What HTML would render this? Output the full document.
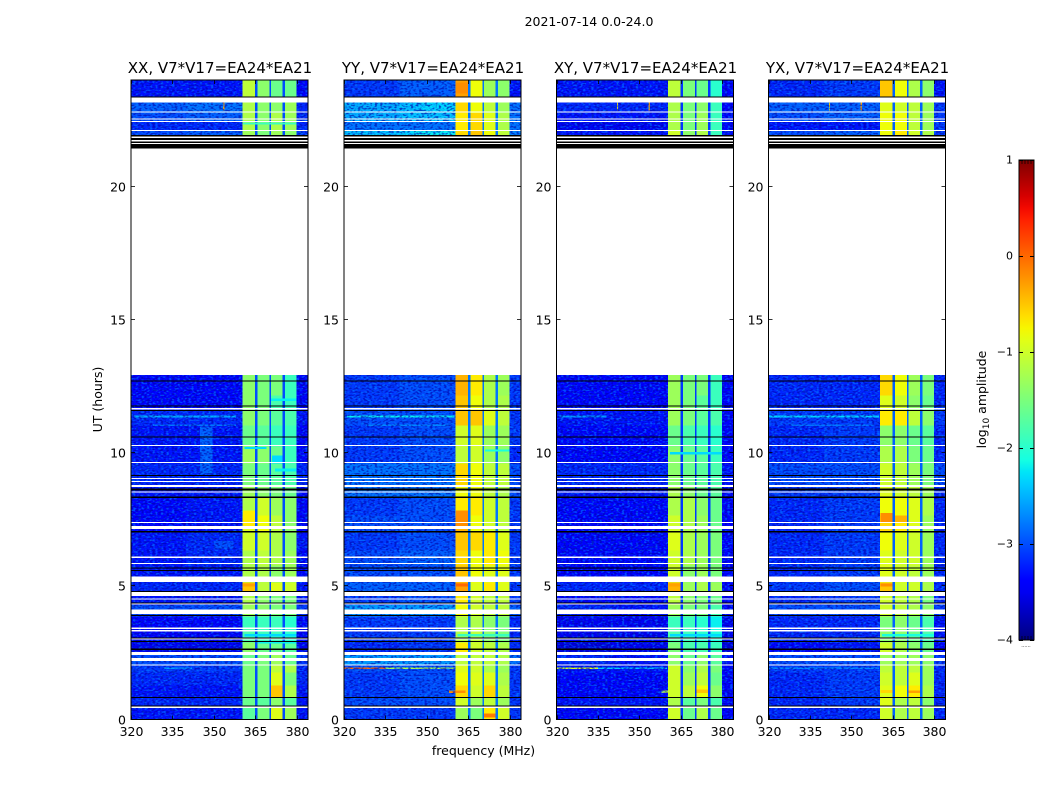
<!DOCTYPE html>
<html>
<head>
<meta charset="utf-8">
<style>
html,body{margin:0;padding:0;background:#fff;width:1050px;height:800px;overflow:hidden}
svg{display:block}
text{font-family:"DejaVu Sans","Liberation Sans",sans-serif;fill:#000}
</style>
</head>
<body>
<svg id="figure" xmlns="http://www.w3.org/2000/svg" width="1050" height="800" viewBox="0 0 1050 800">
  <defs>
    <linearGradient id="jetGradient" x1="0" y1="1" x2="0" y2="0"></linearGradient>
    <filter id="speckleBright" filterUnits="userSpaceOnUse" x="0" y="0" width="1050" height="800" color-interpolation-filters="sRGB">
      <feTurbulence type="fractalNoise" baseFrequency="0.36 0.6" numOctaves="1" seed="4"/>
      <feColorMatrix type="matrix" values="0 0 0 0 0  0 0 0 0 0.5  0 0 0 0 1  6 0 0 0 -3.0"/>
    </filter>
    <filter id="speckleDark" filterUnits="userSpaceOnUse" x="0" y="0" width="1050" height="800" color-interpolation-filters="sRGB">
      <feTurbulence type="fractalNoise" baseFrequency="0.36 0.6" numOctaves="1" seed="11"/>
      <feColorMatrix type="matrix" values="0 0 0 0 0  0 0 0 0 0  0 0 0 0 0.65  6 0 0 0 -2.9"/>
    </filter>
  </defs>
  <text x="589" y="26" font-size="12.5" text-anchor="middle">2021-07-14 0.0-24.0</text>
  <text x="483.5" y="755" font-size="12.5" text-anchor="middle">frequency (MHz)</text>
  <text x="0" y="0" font-size="12.5" text-anchor="middle" transform="translate(102,399.5) rotate(-90)">UT (hours)</text>
  <g id="panels"></g>
  <g id="colorbar"></g>
  <text x="0" y="0" font-size="12.5" text-anchor="middle" transform="translate(986,399.5) rotate(-90)">log<tspan font-size="9" dy="3">10</tspan><tspan dy="-3"> amplitude</tspan></text>
</svg>
<script>
// ---- axis tick labels ----
const freqTicks = [320, 335, 350, 365, 380];
const timeTicks = [0, 5, 10, 15, 20];
const colorTicks = [1, 0, -1, -2, -3, -4];

// ---- frequency columns (MHz): index 0-6 reads a block value, 'g' reads the panel's gap level ----
const columnEdges = [320, 340, 360.3, 364.8, 365.7, 370, 370.7, 374.8, 375.6, 379.9, 384];
const columnSource = [0, 1, 2, 'g', 3, 'g', 4, 'g', 5, 6];

// ---- time blocks (UT hours) ----
const blockEdges = [0, .47, .81, 1.29, 1.78, 2.03, 2.53, 2.91, 3.43, 3.88, 4.3, 4.78, 5.16, 5.79, 6.36, 7.03, 7.67, 8.34, 8.79, 9.62, 10.26, 11.04, 11.6, 12.17, 12.92, 21.93, 22.11, 22.78, 23.38, 24];

// ---- log10 amplitude per block: [bg 320-340, bg 340-360, band1, band2, band3, band4, bg 380-384] ----
const levelsXX = [
[-3.3,-3.3,-1.7,-1.5,-0.9,-1.3,-3.3],
[-3.2,-3.2,-1.6,-1.7,-1.4,-1.7,-3.3],
[-3.3,-3.3,-1.5,-1.5,-0.5,-1.2,-3.3],
[-3.2,-3.2,-1.5,-1.5,-0.9,-1.5,-3.2],
[-3.1,-3.1,-1.5,-1.5,-1.1,-1.2,-3.2],
[-3.0,-3.0,-1.6,-1.5,-1.3,-1.6,-3.1],
[-3.5,-3.5,-1.4,-1.6,-1.6,-1.7,-3.5],
[-3.4,-3.4,-1.8,-1.9,-1.9,-2.0,-3.4],
[-3.4,-3.4,-1.9,-1.9,-1.9,-2.0,-3.4],
[-3.0,-3.0,-1.3,-1.4,-1.5,-1.5,-3.1],
[-3.3,-3.3,-1.2,-1.4,-1.5,-1.5,-3.3],
[-3.2,-3.2,-0.5,-1.1,-0.9,-1.0,-3.3],
[-3.3,-3.3,-1.2,-1.2,-1.4,-1.3,-3.4],
[-3.3,-3.2,-1.2,-1.1,-1.2,-1.3,-3.4],
[-3.3,-3.2,-1.0,-1.0,-1.2,-1.4,-3.3],
[-3.4,-3.3,-0.9,-0.8,-1.1,-1.4,-3.4],
[-3.4,-3.3,-1.2,-1.0,-1.3,-1.4,-3.4],
[-3.3,-3.3,-1.3,-1.4,-1.5,-1.6,-3.4],
[-3.2,-3.2,-1.5,-1.6,-1.7,-1.8,-3.2],
[-3.3,-3.3,-1.3,-1.4,-1.6,-1.9,-3.4],
[-3.3,-3.3,-1.6,-1.7,-1.9,-1.9,-3.4],
[-3.2,-3.2,-1.4,-1.5,-1.7,-1.8,-3.3],
[-3.4,-3.4,-1.4,-1.5,-1.8,-1.9,-3.4],
[-3.4,-3.4,-1.4,-1.5,-1.5,-1.9,-3.4],
null,
[-3.0,-2.9,-1.3,-1.5,-1.3,-1.4,-3.1],
[-3.0,-2.9,-1.2,-1.4,-1.2,-1.3,-3.2],
[-2.9,-2.8,-1.2,-1.4,-1.4,-1.3,-3.2],
[-3.3,-3.3,-1.1,-1.4,-1.6,-1.6,-3.4]];

const levelsYY = [
[-3.1,-3.1,-1.3,-1.5,-0.7,-1.0,-3.1],
[-3.0,-3.0,-1.0,-1.3,-1.1,-1.3,-3.1],
[-3.1,-3.0,-0.6,-1.0,-0.6,-1.1,-3.1],
[-3.1,-3.0,-0.8,-0.9,-0.9,-1.2,-3.1],
[-3.0,-3.0,-0.9,-1.0,-1.2,-1.3,-3.1],
[-2.6,-2.6,-1.1,-1.1,-1.1,-1.2,-2.8],
[-3.2,-3.1,-0.7,-1.0,-1.1,-1.2,-3.2],
[-3.1,-3.1,-1.2,-1.1,-1.4,-1.5,-3.2],
[-3.1,-3.1,-1.2,-1.2,-1.4,-1.5,-3.2],
[-2.6,-2.6,-0.8,-1.0,-1.1,-1.1,-2.9],
[-3.1,-3.0,-0.7,-1.0,-1.1,-1.1,-3.1],
[-2.9,-2.9,-0.3,-0.9,-0.7,-0.9,-3.1],
[-3.0,-3.0,-0.5,-0.8,-0.9,-0.9,-3.1],
[-3.0,-2.9,-0.6,-0.8,-0.7,-0.8,-3.1],
[-3.1,-3.0,-0.5,-0.6,-0.7,-0.9,-3.1],
[-3.0,-3.0,-0.4,-0.8,-1.0,-1.1,-3.1],
[-3.1,-3.0,-0.7,-0.7,-1.0,-1.1,-3.1],
[-2.8,-2.8,-0.8,-0.8,-1.1,-1.2,-3.0],
[-2.8,-2.8,-0.6,-0.8,-1.1,-1.1,-3.0],
[-3.1,-3.0,-1.1,-1.0,-1.3,-1.4,-3.2],
[-3.1,-3.0,-1.0,-0.9,-1.3,-1.3,-3.1],
[-3.0,-3.0,-0.5,-0.5,-0.9,-1.1,-3.1],
[-3.1,-3.0,-0.5,-0.8,-1.2,-1.2,-3.1],
[-3.1,-3.0,-0.4,-0.7,-1.2,-1.3,-3.1],
null,
[-2.4,-2.3,-0.6,-0.5,-0.8,-1.1,-2.7],
[-2.5,-2.4,-0.7,-0.6,-0.9,-1.2,-2.8],
[-2.5,-2.4,-0.6,-0.8,-1.1,-1.3,-2.8],
[-3.1,-2.9,-0.3,-0.8,-1.3,-1.4,-3.3]];

const levelsXY = [
[-3.4,-3.4,-1.0,-1.6,-1.2,-1.6,-3.4],
[-3.3,-3.3,-1.2,-1.7,-1.5,-1.8,-3.4],
[-3.4,-3.4,-1.0,-1.1,-0.8,-1.4,-3.4],
[-3.4,-3.4,-1.0,-1.3,-1.1,-1.6,-3.4],
[-3.3,-3.3,-1.0,-1.4,-1.2,-1.5,-3.4],
[-3.2,-3.3,-1.4,-1.6,-1.4,-1.7,-3.3],
[-3.6,-3.5,-1.5,-1.8,-1.8,-1.9,-3.6],
[-3.5,-3.5,-1.8,-1.9,-2.0,-2.1,-3.5],
[-3.5,-3.5,-1.9,-1.9,-2.0,-2.2,-3.5],
[-3.2,-3.3,-1.3,-1.5,-1.5,-1.8,-3.4],
[-3.4,-3.4,-1.1,-1.4,-1.5,-1.6,-3.4],
[-3.2,-3.2,-0.4,-1.3,-1.2,-1.3,-3.4],
[-3.4,-3.4,-1.0,-1.4,-1.3,-1.5,-3.4],
[-3.4,-3.4,-1.0,-1.2,-1.3,-1.5,-3.4],
[-3.4,-3.4,-0.9,-1.2,-1.3,-1.5,-3.4],
[-3.4,-3.4,-1.0,-1.2,-1.3,-1.6,-3.4],
[-3.4,-3.4,-1.2,-1.2,-1.4,-1.6,-3.4],
[-3.3,-3.3,-1.2,-1.4,-1.6,-1.7,-3.4],
[-3.2,-3.2,-1.4,-1.6,-1.7,-1.8,-3.3],
[-3.4,-3.4,-1.4,-1.6,-1.7,-1.9,-3.4],
[-3.4,-3.4,-1.6,-1.8,-1.9,-2.0,-3.4],
[-3.3,-3.3,-1.3,-1.5,-1.7,-1.8,-3.4],
[-3.4,-3.4,-1.3,-1.5,-1.7,-1.9,-3.4],
[-3.4,-3.4,-1.3,-1.5,-1.5,-1.9,-3.4],
null,
[-3.3,-3.3,-1.0,-1.4,-1.2,-1.9,-3.3],
[-3.3,-3.3,-1.2,-1.5,-1.3,-1.9,-3.4],
[-3.2,-3.2,-1.2,-1.5,-1.4,-1.9,-3.4],
[-3.3,-3.3,-1.1,-1.5,-1.6,-2.0,-3.4]];

const levelsYX = [
[-3.2,-3.2,-1.0,-1.2,-1.1,-1.3,-3.2],
[-3.2,-3.1,-0.9,-1.2,-1.1,-1.4,-3.2],
[-3.2,-3.1,-0.9,-0.8,-0.7,-1.2,-3.2],
[-3.2,-3.1,-1.0,-1.1,-0.9,-1.3,-3.2],
[-3.1,-3.1,-1.1,-1.1,-1.1,-1.3,-3.2],
[-3.0,-3.0,-1.3,-1.3,-1.3,-1.4,-3.1],
[-3.4,-3.3,-1.0,-1.2,-1.4,-1.6,-3.4],
[-3.2,-3.2,-1.4,-1.4,-1.6,-1.8,-3.3],
[-3.2,-3.2,-1.5,-1.4,-1.6,-1.8,-3.3],
[-3.0,-3.0,-1.0,-1.1,-1.2,-1.4,-3.1],
[-3.2,-3.1,-1.0,-1.1,-1.2,-1.5,-3.2],
[-3.1,-3.0,-0.5,-1.0,-1.0,-1.2,-3.2],
[-3.2,-3.1,-0.9,-1.0,-1.1,-1.3,-3.2],
[-3.2,-3.1,-0.9,-1.0,-1.0,-1.3,-3.2],
[-3.2,-3.1,-0.8,-0.9,-1.0,-1.3,-3.2],
[-3.2,-3.1,-0.6,-0.7,-0.9,-1.3,-3.2],
[-3.2,-3.1,-0.8,-0.8,-0.9,-1.2,-3.2],
[-3.1,-3.1,-0.9,-1.0,-1.1,-1.3,-3.2],
[-3.0,-3.0,-1.0,-1.1,-1.3,-1.5,-3.0],
[-3.2,-3.1,-1.2,-1.2,-1.5,-1.6,-3.2],
[-3.2,-3.1,-1.4,-1.4,-1.6,-1.7,-3.2],
[-3.1,-3.1,-0.7,-0.7,-1.1,-1.4,-3.1],
[-3.2,-3.2,-0.9,-1.0,-1.4,-1.6,-3.2],
[-3.2,-3.2,-0.6,-0.8,-1.3,-1.5,-3.2],
null,
[-3.0,-2.9,-0.8,-0.7,-1.0,-1.2,-3.1],
[-3.0,-2.9,-0.8,-0.8,-1.1,-1.3,-3.1],
[-2.9,-2.9,-0.9,-1.0,-1.1,-1.3,-3.1],
[-3.2,-3.1,-0.5,-0.8,-1.2,-1.4,-3.3]];

// ---- narrow features per panel: [t0, t1, f0, f1, level] ----
const featuresXX = [
[11.33,11.4,321,358,-2.5],[11.02,11.07,328,358,-2.8],[9.2,11,345,349.5,-2.9],[6.4,6.7,350,357,-3.0],
[7.25,7.85,360.5,364.8,-0.7],[1.9,1.95,332,342,-2.6],[10.15,10.23,361,369,-2.3],[9.6,9.9,371,374.8,-2.3],
[9.3,9.42,372,379.9,-2.2],[11.95,12.05,370.7,379.9,-2.2],[3.12,3.2,361,379.9,-2.3],[2.85,2.95,366,379.9,-2.2],
[5.0,5.1,360.5,364.8,-0.3],[22.85,23.15,353.2,353.8,-0.3],[22.11,22.43,320,360.3,-3.2],[22.33,22.4,360.5,379.9,-1.9]
];
const featuresYY = [
[11.33,11.4,321,360,-2.2],[11.02,11.07,328,358,-2.7],[1.89,1.95,320,335,0],[1.89,1.95,335,360,-1.2],
[7.25,7.85,360.5,364.8,-0.2],[5.0,5.1,360.5,364.8,0],[10.05,10.13,371,379.9,-2.1],[3.12,3.2,361,379.9,-1.9],
[1.0,1.08,358,364,-0.2],[0.08,0.22,370.7,374.8,-0.1],[23.5,23.9,360.5,364.8,-0.2],[22.11,22.43,320,360.3,-2.8],
[22.8,23.16,348,360.3,-2.3],[21.93,22.11,345,360.3,-2.2]
];
const featuresXY = [
[11.33,11.4,321,338,-2.6],[1.89,1.95,320,335,-0.9],[1.89,1.95,335,360,-2.4],[1.0,1.08,358,364,-1.0],
[1.0,1.12,370.7,374.8,-0.5],[5.0,5.1,360.5,364.8,-0.3],[3.12,3.2,361,379.9,-2.3],[9.95,10.03,361,379.9,-2.3],
[22.85,23.15,353.2,353.8,-0.3],[22.85,23.15,341.8,342.3,-0.6],[22.11,22.43,320,360.3,-3.5]
];
const featuresYX = [
[11.33,11.4,320,360,-2.3],[11.02,11.07,328,358,-2.8],[7.4,7.75,360.5,364.8,-0.2],[7.4,7.65,365.7,370,-0.4],
[5.0,5.1,360.5,364.8,-0.2],[1.89,1.95,320,360,-2.7],[1.0,1.08,370.7,374.8,-0.3],[1.0,1.1,360.5,364.8,-0.6],
[3.12,3.2,361,379.9,-2.1],[22.85,23.15,353.2,353.8,-0.3],[22.85,23.15,341.8,342.3,-0.6],[22.11,22.43,320,360.3,-3.3]
];

// ---- flagged integrations (UT hours): [start, end] ----
const whiteGaps = [
[.44,.48],[2.03,2.07],[2.2,2.3],[2.43,2.53],[3.0,3.04],[3.31,3.35],[3.39,3.46],[3.95,4.13],[4.31,4.35],[4.51,4.55],
[4.64,4.78],[5.16,5.36],[5.83,5.87],[6.07,6.11],[7.14,7.26],[7.37,7.41],[8.51,8.55],[8.73,8.8],[8.92,8.96],[9.03,9.07],
[9.62,9.66],[10.26,10.3],[11.64,11.69],[12.92,21.43],[21.6,21.64],[21.7,21.75],[21.83,21.88],[22.08,22.12],[22.43,22.47],
[22.52,22.56],[22.78,22.82],[23.16,23.34]
];
const blackGaps = [
[.48,.52],[.8,.84],[2.61,2.67],[2.91,2.95],[3.04,3.08],[3.88,3.92],[4.36,4.4],[4.78,4.82],[5.58,5.62],[5.67,5.71],
[7.02,7.07],[8.32,8.36],[8.6,8.66],[9.13,9.17],[10.59,10.63],[11.57,11.61],[11.75,11.79],[12.69,12.73],
[21.43,21.6],[21.64,21.7],[21.75,21.83],[21.88,21.93],[23.34,23.38]
];

// ---- panels ----
const panelTitles = ['XX, V7*V17=EA24*EA21', 'YY, V7*V17=EA24*EA21', 'XY, V7*V17=EA24*EA21', 'YX, V7*V17=EA24*EA21'];
const panelLevels = [levelsXX, levelsYY, levelsXY, levelsYX];
const panelFeatures = [featuresXX, featuresYY, featuresXY, featuresYX];
const panelGapLevels = [-3.0, -2.8, -3.1, -2.9];

const SVGNS = 'http://www.w3.org/2000/svg';
const panelLefts = [131, 344, 556.5, 768.5];
const panelWidth = 177;
const plotTop = 80, plotBottom = 719.5;
const freqMin = 320, freqMax = 384, timeMin = 0, timeMax = 24, colorMin = -4, colorMax = 1;

function xScale(left, f) { return left + (f - freqMin) / (freqMax - freqMin) * panelWidth; }
function yScale(t) { return plotBottom - (t - timeMin) / (timeMax - timeMin) * (plotBottom - plotTop); }

function jet(level) {
  const v = Math.max(0, Math.min(1, (level - colorMin) / (colorMax - colorMin)));
  const ramp = (pts) => {
    for (let i = 1; i < pts.length; i++) {
      if (v <= pts[i][0]) {
        const a = pts[i - 1], b = pts[i];
        return a[1] + (b[1] - a[1]) * (v - a[0]) / (b[0] - a[0]);
      }
    }
    return pts[pts.length - 1][1];
  };
  const r = ramp([[0, 0], [.35, 0], [.66, 1], [.89, 1], [1, .5]]);
  const g = ramp([[0, 0], [.125, 0], [.375, 1], [.64, 1], [.91, 0], [1, 0]]);
  const b = ramp([[0, .5], [.11, 1], [.34, 1], [.65, 0], [1, 0]]);
  return 'rgb(' + Math.round(r * 255) + ',' + Math.round(g * 255) + ',' + Math.round(b * 255) + ')';
}

function make(tag, parent) {
  const el = document.createElementNS(SVGNS, tag);
  parent.appendChild(el);
  return el;
}
function place(el, x, y, w, h, fill) {
  el.setAttribute('x', x);
  el.setAttribute('y', y);
  el.setAttribute('width', w);
  el.setAttribute('height', h);
  if (fill) el.setAttribute('fill', fill);
}

const panelsRoot = document.getElementById('panels');

panelTitles.forEach(function (title, p) {
  const left = panelLefts[p];
  const levels = panelLevels[p];
  const group = make('g', panelsRoot);
  
  

  const heat = make('g', group);
  
  
  heat.setAttribute('shape-rendering', 'crispEdges');

  levels.forEach(function (row, b) {
    if (!row) return;
    const yTop = yScale(blockEdges[b + 1]);
    const yBot = yScale(blockEdges[b]);
    columnSource.forEach(function (src, c) {
      const value = src === 'g' ? panelGapLevels[p] : row[src];
      const x0 = xScale(left, columnEdges[c]);
      const x1 = xScale(left, columnEdges[c + 1]);
      const cell = make('rect', heat);
      
      
      place(cell, x0, yTop, x1 - x0 + .3, yBot - yTop + .3, jet(value));
    });
  });

  panelFeatures[p].forEach(function (ft) {
    const cell = make('rect', heat);
    
    
    place(cell, xScale(left, ft[2]), yScale(ft[1]), xScale(left, ft[3]) - xScale(left, ft[2]), yScale(ft[0]) - yScale(ft[1]), jet(ft[4]));
  });

  // speckle texture over the off-band background columns
  [[columnEdges[0], columnEdges[2]], [columnEdges[9], columnEdges[10]]].forEach(function (span) {
    const clipId = 'clip-' + p + '-' + Math.round(span[0]);
    const clip = make('clipPath', group);
    clip.setAttribute('id', clipId);
    const cr = make('rect', clip);
    place(cr, xScale(left, span[0]), plotTop, xScale(left, span[1]) - xScale(left, span[0]), plotBottom - plotTop);
    ['speckleBright', 'speckleDark'].forEach(function (fid) {
      const wrap = make('g', group);
      wrap.setAttribute('clip-path', 'url(#' + clipId + ')');
      wrap.setAttribute('opacity', '0.6');
      const sp = make('rect', wrap);
      
      
      place(sp, xScale(left, span[0]), plotTop, xScale(left, span[1]) - xScale(left, span[0]), plotBottom - plotTop, '#000');
      sp.setAttribute('filter', 'url(#' + fid + ')');
    });
  });

  const flags = make('g', group);
  
  
  flags.setAttribute('shape-rendering', 'crispEdges');
  whiteGaps.forEach(function (g) {
    const r = make('rect', flags);
    
    
    place(r, left, yScale(g[1]), panelWidth, yScale(g[0]) - yScale(g[1]), '#fff');
  });
  blackGaps.forEach(function (g) {
    const r = make('rect', flags);
    
    
    place(r, left, yScale(g[1]), panelWidth, yScale(g[0]) - yScale(g[1]), '#000');
  });

  const frame = make('rect', group);
  
  
  place(frame, left, plotTop, panelWidth, plotBottom - plotTop, 'none');
  frame.setAttribute('stroke', '#000');
  frame.setAttribute('stroke-width', '1');
  frame.setAttribute('shape-rendering', 'crispEdges');

  const titleEl = make('text', group);
  
  
  titleEl.setAttribute('x', left + panelWidth / 2 + .5);
  titleEl.setAttribute('y', 73);
  titleEl.setAttribute('font-size', '15');
  titleEl.setAttribute('text-anchor', 'middle');
  titleEl.textContent = title;

  freqTicks.forEach(function (f) {
    const x = Math.round(xScale(left, f)) + .5;
    [[plotBottom, plotBottom - 4], [plotTop, plotTop + 4]].forEach(function (seg) {
      const t = make('line', group);
      
      
      t.setAttribute('x1', x);
      t.setAttribute('x2', x);
      t.setAttribute('y1', seg[0]);
      t.setAttribute('y2', seg[1]);
      t.setAttribute('stroke', '#000');
      t.setAttribute('stroke-width', '0.8');
    });
    const lab = make('text', group);
    
    
    lab.setAttribute('x', x);
    lab.setAttribute('y', 736);
    lab.setAttribute('font-size', '12.5');
    lab.setAttribute('text-anchor', 'middle');
    lab.textContent = f;
  });

  timeTicks.forEach(function (t) {
    const y = Math.round(yScale(t)) - .5;
    [[left, left + 4], [left + panelWidth, left + panelWidth - 4]].forEach(function (seg) {
      const tk = make('line', group);
      
      
      tk.setAttribute('x1', seg[0]);
      tk.setAttribute('x2', seg[1]);
      tk.setAttribute('y1', y);
      tk.setAttribute('y2', y);
      tk.setAttribute('stroke', '#000');
      tk.setAttribute('stroke-width', '0.8');
    });
    const lab = make('text', group);
    
    
    lab.setAttribute('x', left - 5);
    lab.setAttribute('y', y + 5);
    lab.setAttribute('font-size', '12.5');
    lab.setAttribute('text-anchor', 'end');
    lab.textContent = t;
  });
});

// ---- colorbar ----
const cbarLeft = 1019, cbarWidth = 15, cbarTop = 160, cbarBottom = 640;
function cScale(v) { return cbarBottom - (v - colorMin) / (colorMax - colorMin) * (cbarBottom - cbarTop); }

const grad = document.getElementById('jetGradient');
for (let i = 0; i <= 40; i++) {
  const stop = make('stop', grad);
  stop.setAttribute('offset', (i / 40));
  stop.setAttribute('stop-color', jet(colorMin + (colorMax - colorMin) * i / 40));
}
const cbarRoot = document.getElementById('colorbar');
const bar = make('rect', cbarRoot);


place(bar, cbarLeft, cbarTop, cbarWidth, cbarBottom - cbarTop, 'url(#jetGradient)');
bar.setAttribute('stroke', '#000');
bar.setAttribute('stroke-width', '1');
bar.setAttribute('shape-rendering', 'crispEdges');

colorTicks.forEach(function (v) {
  const y = Math.round(cScale(v)) + .5;
  [[cbarLeft, cbarLeft + 4], [cbarLeft + cbarWidth, cbarLeft + cbarWidth - 4]].forEach(function (seg) {
    const t = make('line', cbarRoot);
    
    
    t.setAttribute('x1', seg[0]);
    t.setAttribute('x2', seg[1]);
    t.setAttribute('y1', y);
    t.setAttribute('y2', y);
    t.setAttribute('stroke', '#000');
  });
  const lab = make('text', cbarRoot);
  
  
  lab.setAttribute('x', 1013);
  lab.setAttribute('y', y + 3);
  lab.setAttribute('font-size', '11');
  lab.setAttribute('text-anchor', 'end');
  lab.textContent = v < 0 ? '\u2212' + Math.abs(v) : String(v);
});

for (let i = 1; i < 5; i++) {
  const mx = cbarLeft + i * cbarWidth / 5;
  [[cbarTop, cbarTop + 4], [cbarBottom, cbarBottom - 4]].forEach(function (seg) {
    const m = make('line', cbarRoot);
    
    
    m.setAttribute('x1', mx);
    m.setAttribute('x2', mx);
    m.setAttribute('y1', seg[0]);
    m.setAttribute('y2', seg[1]);
    m.setAttribute('stroke', '#000');
    m.setAttribute('stroke-width', '0.7');
  });
}
const dots = make('text', cbarRoot);


dots.setAttribute('x', 1026);
dots.setAttribute('y', 647);
dots.setAttribute('font-size', '5');
dots.setAttribute('fill', '#777');
dots.setAttribute('text-anchor', 'middle');
dots.textContent = '......';
</script>
</body>
</html>
